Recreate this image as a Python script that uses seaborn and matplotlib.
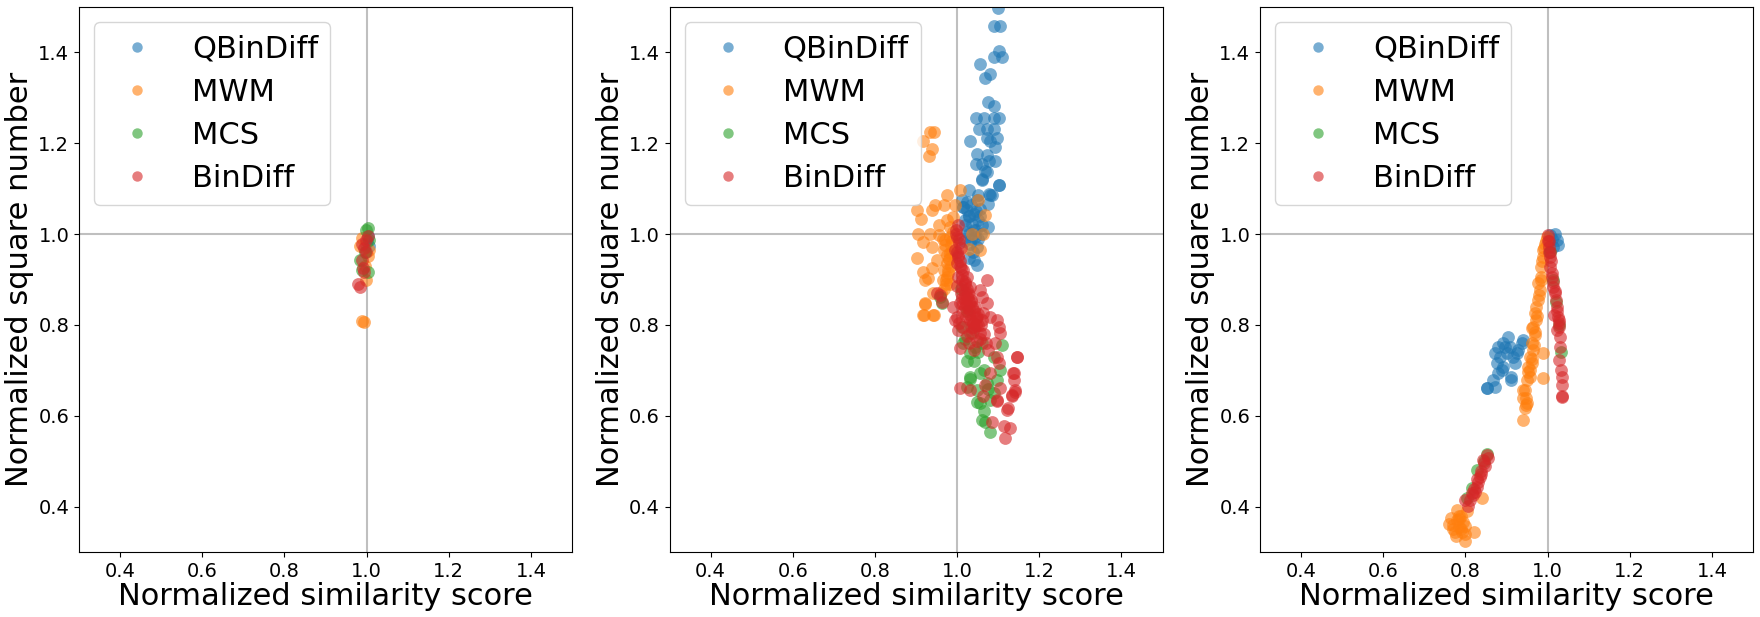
import matplotlib
matplotlib.use('Agg')
import matplotlib.pyplot as plt
from matplotlib.lines import Line2D
import seaborn as sns
import pandas as pd

methods = ['QBinDiff', 'MWM', 'MCS', 'BinDiff']
colors = sns.color_palette('tab10', 4)

# --- panel 1 (left) ---
left_qbindiff_x = [1.007, 1.003, 0.998, 1.000]
left_qbindiff_y = [0.974, 0.996, 0.978, 0.985]
left_mwm_x = [0.989, 0.993, 0.998, 1.007, 0.984, 0.989, 1.003, 0.995]
left_mwm_y = [0.809, 0.806, 0.900, 0.965, 0.974, 0.991, 0.952, 0.930]
left_mcs_x = [1.003, 0.998, 0.984, 1.003, 0.989, 1.005, 0.995]
left_mcs_y = [1.013, 1.009, 0.942, 0.917, 0.922, 0.987, 0.960]
left_bindiff_x = [0.980, 0.984, 0.993, 0.989, 0.993, 1.003, 0.989, 0.998, 0.998, 0.991]
left_bindiff_y = [0.891, 0.883, 0.917, 0.943, 0.970, 0.996, 0.978, 0.961, 0.987, 0.925]

# --- panel 2 (middle) ---
mid_qbindiff_x = [1.099, 1.091, 1.105, 1.101, 1.089, 1.109, 1.055, 1.081, 1.069, 1.075,
                  1.091, 1.045, 1.065, 1.089, 1.101, 1.053, 1.073, 1.089, 1.031, 1.073,
                  1.097, 1.081, 1.049, 1.073, 1.093, 1.045, 1.061, 1.077, 1.093, 1.069,
                  1.061, 1.103, 1.077, 1.085, 1.028, 1.052, 1.080, 1.076, 1.011, 1.024,
                  1.040, 1.056, 1.019, 1.036, 1.052, 1.024, 1.044, 1.032, 1.048, 1.076,
                  1.028, 1.048, 1.040, 1.060, 1.101, 1.072, 1.030, 1.045, 1.015, 1.035,
                  1.015, 1.025, 1.035, 1.045, 1.055, 1.020, 1.030, 1.040, 1.050, 1.060,
                  1.018, 1.038, 1.058, 1.028, 1.048]
mid_qbindiff_y = [1.498, 1.459, 1.459, 1.404, 1.390, 1.391, 1.375, 1.353, 1.344, 1.290,
                  1.283, 1.255, 1.255, 1.255, 1.255, 1.231, 1.231, 1.231, 1.206, 1.212,
                  1.212, 1.205, 1.177, 1.175, 1.192, 1.155, 1.155, 1.160, 1.160, 1.138,
                  1.121, 1.108, 1.089, 1.086, 1.097, 1.086, 1.086, 1.067, 1.075, 1.053,
                  1.045, 1.056, 1.031, 1.023, 1.031, 1.005, 0.994, 0.979, 0.972, 1.016,
                  0.947, 0.932, 0.943, 1.119, 1.108, 1.137, 1.040, 1.010, 1.060, 0.990,
                  1.060, 1.070, 1.065, 1.050, 1.040, 1.020, 1.000, 1.010, 0.990, 1.020,
                  0.985, 0.960, 1.000, 1.040, 1.075]
mid_mwm_x = [0.917, 0.935, 0.943, 0.931, 0.939, 0.902, 0.911, 0.938, 0.946, 0.967,
             0.975, 0.995, 1.007, 0.906, 0.934, 0.918, 0.938, 0.955, 0.955, 0.902,
             0.951, 0.938, 0.918, 0.922, 0.930, 0.922, 0.918, 0.942, 0.942, 0.919,
             0.943, 0.923, 0.967, 0.975, 0.967, 0.983, 0.975, 0.983, 0.991, 0.971,
             0.983, 0.980, 0.972, 0.985, 0.990, 1.036, 1.068, 1.056, 1.064, 1.052,
             1.028, 0.978, 0.988, 0.965, 0.965, 0.970, 0.975, 0.980, 0.985, 0.978,
             0.972, 0.968, 0.982, 0.988, 0.960, 0.975]
mid_mwm_y = [1.206, 1.224, 1.224, 1.171, 1.187, 1.053, 1.034, 1.053, 1.064, 1.064,
             1.086, 1.064, 1.097, 1.001, 1.001, 0.983, 0.972, 0.998, 1.020, 0.947,
             0.943, 0.925, 0.917, 0.899, 0.903, 0.848, 0.822, 0.822, 0.870, 0.821,
             0.821, 0.847, 0.965, 0.936, 0.921, 0.958, 0.906, 1.016, 1.038, 0.987,
             0.994, 0.945, 0.890, 0.975, 1.005, 1.001, 1.042, 0.965, 1.001, 1.076,
             0.968, 0.920, 0.985, 0.900, 0.990, 0.975, 0.955, 0.945, 0.930, 0.915,
             0.900, 0.880, 0.890, 0.960, 0.870, 1.030]
mid_mcs_x = [0.959, 0.963, 1.032, 1.044, 1.060, 1.109, 1.032, 1.056, 1.072, 1.048,
             1.097, 1.080, 1.024, 1.056, 1.105, 1.036, 1.011, 1.069, 1.081, 1.061,
             1.049, 1.032, 1.040, 1.020, 1.090, 1.065, 1.010, 1.025, 1.015, 1.025,
             1.050, 1.065, 1.075, 1.090]
mid_mcs_y = [0.862, 0.848, 0.738, 0.752, 0.760, 0.756, 0.686, 0.694, 0.672, 0.657,
             0.679, 0.635, 0.664, 0.628, 0.701, 0.782, 0.796, 0.587, 0.565, 0.591,
             0.630, 0.682, 0.720, 0.770, 0.650, 0.610, 0.880, 0.830, 0.760, 0.720,
             0.740, 0.700, 0.660, 0.730]
mid_bindiff_x = [1.003, 1.000, 0.995, 1.000, 1.003, 1.011, 1.024, 1.036, 1.048, 1.007,
                 1.000, 1.015, 1.040, 1.060, 1.072, 1.064, 1.024, 1.032, 1.056, 0.991,
                 0.995, 1.003, 1.032, 1.056, 1.080, 1.097, 1.105, 1.101, 1.093, 1.097,
                 1.101, 1.080, 1.076, 1.007, 1.040, 0.959, 0.951, 0.963, 1.007, 1.068,
                 1.032, 1.105, 1.133, 1.064, 1.137, 1.145, 1.141, 1.072, 1.125, 1.097,
                 1.121, 1.113, 1.117, 1.130, 1.097, 1.085, 1.146, 1.138, 1.138, 1.142,
                 1.134, 0.998, 1.002, 1.010, 1.020, 1.028, 1.015, 1.045, 1.005, 1.030,
                 0.998, 1.005, 1.010, 1.002, 1.008, 1.015, 1.012, 1.020, 1.025, 1.018,
                 1.030, 1.035, 1.028, 1.040, 1.045, 1.038, 1.050, 1.022, 1.010, 1.000,
                 1.015, 1.032, 1.042, 1.055, 1.005, 1.025, 1.048, 1.058, 1.065, 1.070,
                 1.000, 1.006, 1.013, 1.019, 1.026, 1.033, 1.020, 1.028, 1.037, 1.044,
                 1.052, 1.060, 1.012, 1.022, 1.034]
mid_bindiff_y = [1.020, 0.994, 0.965, 0.936, 0.906, 0.884, 0.862, 0.840, 0.818, 0.848,
                 0.818, 0.796, 0.796, 0.862, 0.848, 0.826, 0.906, 0.884, 0.877, 0.840,
                 0.811, 0.789, 0.782, 0.782, 0.818, 0.811, 0.782, 0.796, 0.760, 0.730,
                 0.716, 0.694, 0.745, 0.749, 0.745, 0.866, 0.870, 0.851, 0.661, 0.668,
                 0.657, 0.661, 0.646, 0.643, 0.694, 0.730, 0.657, 0.899, 0.617, 0.632,
                 0.613, 0.578, 0.552, 0.574, 0.635, 0.587, 0.730, 0.695, 0.678, 0.652,
                 0.643, 1.000, 0.950, 0.925, 0.870, 0.850, 0.830, 0.800, 0.980, 0.760,
                 1.010, 0.990, 0.970, 0.955, 0.940, 0.920, 0.900, 0.895, 0.880, 0.860,
                 0.865, 0.850, 0.835, 0.830, 0.815, 0.805, 0.800, 0.820, 0.870, 0.885,
                 0.845, 0.810, 0.790, 0.770, 0.805, 0.775, 0.765, 0.800, 0.780, 0.760,
                 0.960, 0.930, 0.910, 0.890, 0.870, 0.855, 0.840, 0.825, 0.810, 0.840,
                 0.825, 0.810, 0.860, 0.845, 0.795]

# --- panel 3 (right) ---
right_qbindiff_x = [0.852, 0.872, 0.868, 0.880, 0.892, 0.876, 0.884, 0.872, 0.880, 0.892,
                    0.904, 0.908, 0.900, 0.916, 0.925, 0.921, 0.912, 0.929, 0.937, 0.941,
                    0.888, 0.896, 0.853, 0.911, 1.006, 1.018, 1.022, 1.026, 1.014, 1.010]
right_qbindiff_y = [0.661, 0.664, 0.679, 0.694, 0.708, 0.716, 0.730, 0.738, 0.752, 0.760,
                    0.774, 0.752, 0.738, 0.730, 0.738, 0.716, 0.686, 0.745, 0.760, 0.767,
                    0.701, 0.752, 0.661, 0.679, 0.998, 1.000, 0.987, 0.976, 0.972, 0.990]
right_mwm_x = [0.941, 0.945, 0.949, 0.941, 0.949, 0.957, 0.953, 0.961, 0.957, 0.965,
               0.961, 0.969, 0.965, 0.973, 0.969, 0.973, 0.977, 0.981, 0.977, 0.985,
               0.983, 0.988, 0.989, 0.994, 0.998, 0.989, 0.989, 0.961, 0.953, 0.941,
               0.947, 0.948, 0.945, 0.779, 0.759, 0.784, 0.800, 0.820, 0.840, 0.792,
               0.776, 0.770, 0.790, 0.800, 0.785, 0.805, 0.765, 0.795, 0.958, 0.962,
               0.966, 0.970, 0.975, 0.979, 0.983, 0.987, 0.992, 0.996, 0.780, 0.790,
               0.770, 0.800, 0.785, 0.775]
right_mwm_y = [0.591, 0.617, 0.628, 0.657, 0.679, 0.686, 0.708, 0.716, 0.730, 0.745,
               0.760, 0.778, 0.796, 0.811, 0.826, 0.840, 0.855, 0.877, 0.892, 0.906,
               0.928, 0.950, 0.965, 0.979, 0.994, 0.738, 0.683, 0.793, 0.697, 0.639,
               0.624, 0.639, 0.657, 0.393, 0.361, 0.372, 0.358, 0.343, 0.418, 0.343,
               0.336, 0.350, 0.380, 0.325, 0.355, 0.390, 0.375, 0.365, 0.700, 0.725,
               0.755, 0.785, 0.820, 0.865, 0.900, 0.940, 0.970, 0.985, 0.370, 0.350,
               0.360, 0.340, 0.380, 0.345]
right_mcs_x = [0.827, 0.852, 0.845, 0.815, 0.805, 1.005, 1.012, 1.020, 1.028, 1.032]
right_mcs_y = [0.481, 0.516, 0.500, 0.440, 0.420, 0.960, 0.900, 0.850, 0.800, 0.740]
right_bindiff_x = [0.852, 0.856, 0.843, 0.847, 0.839, 0.835, 0.831, 0.827, 0.823, 0.819,
                   0.811, 0.807, 0.799, 1.002, 1.004, 1.006, 1.007, 1.010, 1.012, 1.018,
                   1.022, 1.026, 1.028, 1.024, 1.030, 1.030, 1.028, 1.032, 1.034, 1.034,
                   1.036, 1.015, 1.034, 1.000, 1.003, 1.003, 1.005, 1.008, 1.011, 1.014,
                   1.017, 1.020, 1.024, 1.027, 1.029, 0.845, 0.837, 0.829, 0.821, 0.815]
right_bindiff_y = [0.514, 0.507, 0.503, 0.489, 0.478, 0.466, 0.455, 0.444, 0.433, 0.426,
                   0.415, 0.402, 0.415, 0.998, 0.972, 0.950, 0.928, 0.906, 0.884, 0.870,
                   0.840, 0.818, 0.804, 0.789, 0.774, 0.752, 0.723, 0.701, 0.686, 0.668,
                   0.642, 0.822, 0.643, 0.985, 0.960, 0.985, 0.960, 0.940, 0.915, 0.895,
                   0.875, 0.855, 0.830, 0.810, 0.795, 0.495, 0.472, 0.460, 0.438, 0.430]

panels = [
    [(left_qbindiff_x, left_qbindiff_y), (left_mwm_x, left_mwm_y),
     (left_mcs_x, left_mcs_y), (left_bindiff_x, left_bindiff_y)],
    [(mid_qbindiff_x, mid_qbindiff_y), (mid_mwm_x, mid_mwm_y),
     (mid_mcs_x, mid_mcs_y), (mid_bindiff_x, mid_bindiff_y)],
    [(right_qbindiff_x, right_qbindiff_y), (right_mwm_x, right_mwm_y),
     (right_mcs_x, right_mcs_y), (right_bindiff_x, right_bindiff_y)],
]

fig, axes = plt.subplots(1, 3, figsize=(17.6, 6.17), dpi=100)
fig.subplots_adjust(left=79/1760, right=1753/1760, bottom=1-552/617, top=1-7/617,
                    wspace=97.5/493)

# legend handles: single centred markers
handles = [Line2D([], [], marker='o', linestyle='', markersize=7.5, markeredgewidth=0,
                  color=c, alpha=0.6, label=m) for m, c in zip(methods, colors)]

for ax, series in zip(axes, panels):
    ax.axhline(1.0, color='grey', alpha=0.5, lw=1.5, zorder=0)
    ax.axvline(1.0, color='grey', alpha=0.5, lw=1.5, zorder=0)
    for name, col, (xs, ys) in zip(methods, colors, series):
        df = pd.DataFrame({'x': xs, 'y': ys})
        sns.scatterplot(data=df, x='x', y='y', ax=ax, color=col, alpha=0.6,
                        s=85, linewidth=0, legend=False)
    ax.set_xlim(0.3, 1.5)
    ax.set_ylim(0.3, 1.5)
    ax.set_xticks([0.4, 0.6, 0.8, 1.0, 1.2, 1.4])
    ax.set_yticks([0.4, 0.6, 0.8, 1.0, 1.2, 1.4])
    ax.tick_params(labelsize=14)
    ax.set_xlabel('Normalized similarity score', fontsize=22, labelpad=1)
    ax.set_ylabel('Normalized square number', fontsize=22, labelpad=3)
    ax.legend(handles=handles, loc='upper left', fontsize=22, labelspacing=0.46)

fig.savefig('out.png', dpi=100)
